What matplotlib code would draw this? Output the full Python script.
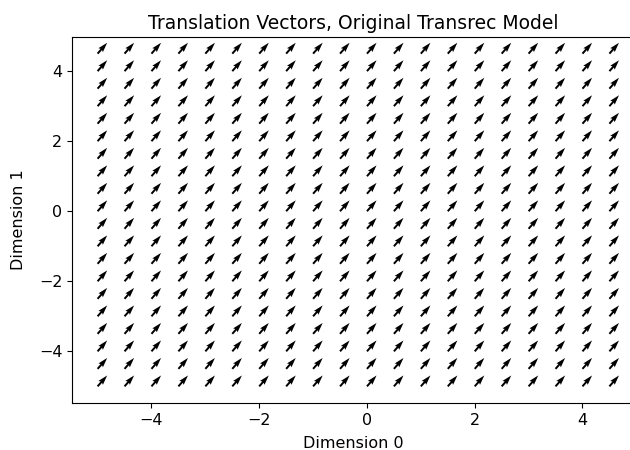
import numpy as np
import matplotlib
matplotlib.use("Agg")
import matplotlib.pyplot as plt

# grid of points where translation vectors are drawn
xs = [-5.0, -4.5, -4.0, -3.5, -3.0, -2.5, -2.0, -1.5, -1.0, -0.5,
      0.0, 0.5, 1.0, 1.5, 2.0, 2.5, 3.0, 3.5, 4.0, 4.5]
ys = [-5.0, -4.5, -4.0, -3.5, -3.0, -2.5, -2.0, -1.5, -1.0, -0.5,
      0.0, 0.5, 1.0, 1.5, 2.0, 2.5, 3.0, 3.5, 4.0, 4.5]
# translation vector (same everywhere in the original model)
u0 = 0.66
v0 = 0.75

X, Y = np.meshgrid(xs, ys)
U = np.full(X.shape, u0)
V = np.full(Y.shape, v0)

fig = plt.figure(figsize=(6.3, 4.5), dpi=100)
ax = fig.add_axes([72/630, 1-403/450, (635-72)/630, (403-37)/450])
ax.quiver(X, Y, U, V, scale_units="dots", scale=np.hypot(u0, v0)/14.5,
          width=0.0035)
ax.set_title("Translation Vectors, Original Transrec Model", fontsize=13.5)
ax.set_xlabel("Dimension 0", fontsize=11.5, labelpad=6)
ax.set_ylabel("Dimension 1", fontsize=11.5, labelpad=9)
ax.tick_params(labelsize=11.5)
fig.savefig("out.png", dpi=100)
